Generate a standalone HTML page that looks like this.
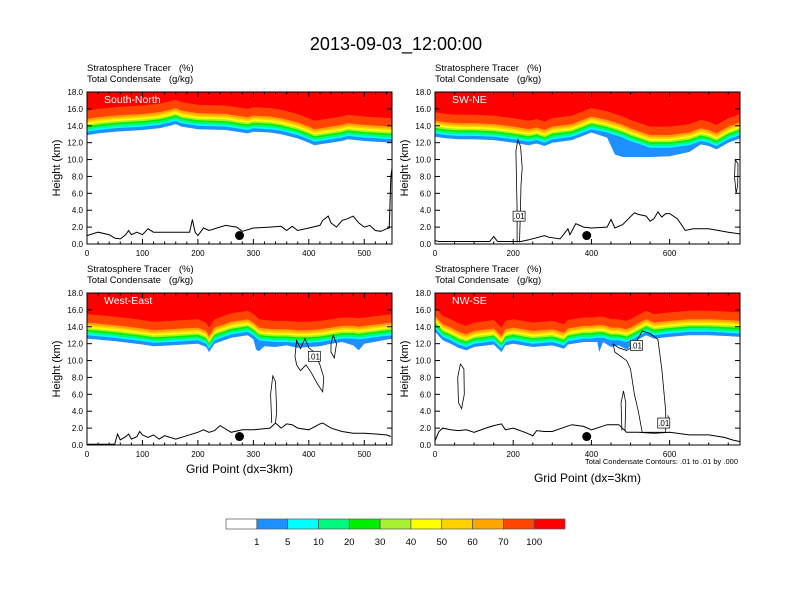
<!DOCTYPE html>
<html><head><meta charset="utf-8"><style>
body{margin:0;background:#fff;}
svg{display:block;font-family:"Liberation Sans",sans-serif;}
</style></head><body>
<svg id="chart" width="792" height="612" viewBox="0 0 792 612">
<rect width="792" height="612" fill="#fff"/>
<text x="396" y="50" font-size="18" text-anchor="middle">2013-09-03_12:00:00</text>
</svg>
<script>
const levelColors=["#ffffff","#1e90ff","#00ffff","#00fa80","#00f000","#a8f030","#ffff00","#ffd200","#ffa500","#ff4500","#ff0000"];
const levelLabels=["1","5","10","20","30","40","50","60","70","100"];
const bandOffsets=[0,0.4,0.6,0.85,1.05,1.25,1.45,1.65,1.9,2.9];

const snTropoX=[0,20,50,100,130,150,160,170,200,250,290,300,330,350,380,400,410,430,460,470,500,550];
const snTropo=[12.9,13.1,13.3,13.5,13.7,14.0,14.2,13.9,13.6,13.5,13.1,13.3,13.2,13.0,12.5,12.0,11.7,11.9,12.2,12.4,12.2,12.0];
const snBlue=snTropo;
const snTerrX=[0,10,20,40,50,60,70,75,80,90,100,110,120,150,185,190,195,200,210,220,250,270,280,300,330,350,360,370,380,400,420,425,435,440,450,460,470,480,490,500,510,520,530,540,545,548,550];
const snTerr=[1.0,1.2,1.4,1.1,0.7,0.6,1.1,1.6,1.1,1.4,1.1,1.8,1.4,1.4,1.4,2.9,1.4,1.0,1.9,1.6,2.2,2.0,1.5,1.9,2.0,2.1,1.6,2.1,1.6,1.9,2.2,2.8,3.3,2.5,2.0,2.8,3.0,3.3,2.5,2.0,2.2,1.6,1.5,1.8,1.9,8.0,9.0];

const swTropoX=[0,30,60,100,150,200,240,260,280,300,350,400,440,460,480,500,550,600,650,680,700,720,750,780];
const swTropo=[12.7,12.5,12.4,12.4,12.3,12.0,11.7,11.9,11.6,12.0,12.3,13.2,12.8,12.5,12.2,11.8,11.0,11.0,11.3,11.8,11.6,11.2,12.0,12.5];
const swBlue=[12.7,12.5,12.4,12.4,12.3,12.0,11.7,11.9,11.6,12.0,12.3,13.2,12.6,10.6,10.3,10.3,10.3,10.4,10.9,11.8,11.6,11.2,12.0,12.5];
const swTerrX=[0,10,100,140,150,160,200,220,240,280,290,320,330,340,345,360,380,400,440,450,460,480,510,520,540,550,560,570,580,590,600,620,640,660,700,750,780];
const swTerr=[0.4,0.3,0.3,0.3,0.9,0.3,0.3,0.3,0.5,1.0,0.8,0.6,1.2,1.8,1.1,2.4,2.0,1.9,2.0,2.9,1.9,2.3,3.7,3.5,3.3,2.7,3.0,3.8,3.2,3.6,3.6,3.0,1.6,1.8,1.8,1.4,1.2];

const weTropoX=[0,50,100,120,150,200,215,220,230,260,290,300,305,310,320,340,360,380,400,420,440,460,480,490,500,550];
const weTropo=[12.6,12.3,11.9,11.7,11.8,12.0,11.6,11.0,12.0,12.7,13.0,12.6,12.3,12.0,11.9,11.8,11.8,11.7,11.7,11.8,12.0,12.2,12.2,12.1,12.2,12.6];
const weBlue=[12.6,12.3,11.9,11.7,11.8,12.0,11.6,11.0,12.0,12.7,13.0,12.5,11.3,11.1,11.7,11.6,11.8,11.5,11.6,11.7,12.0,12.2,11.8,11.2,12.0,12.6];
const weTerrX=[0,50,55,60,70,75,80,90,95,100,110,120,130,140,160,180,200,210,220,230,240,250,260,280,300,330,340,350,360,370,380,400,420,425,440,460,480,500,520,540,548];
const weTerr=[0.1,0.1,1.3,0.6,1.0,1.3,0.7,1.0,1.6,1.2,0.9,1.2,0.7,1.1,0.7,1.1,1.5,1.8,1.5,1.7,2.3,1.9,1.5,1.8,1.8,2.0,2.6,2.0,2.5,2.4,2.0,1.8,2.5,2.6,2.0,1.6,1.4,1.4,1.3,1.2,1.0];

const nwTropoX=[0,20,40,60,80,100,150,170,180,200,250,300,330,340,380,400,415,420,430,450,470,490,500,520,540,560,600,650,700,750,780];
const nwTropo=[13.4,12.4,12.0,11.5,11.2,11.6,11.9,11.0,11.8,12.0,11.6,11.8,11.4,11.9,12.2,12.2,12.3,12.3,12.3,12.0,12.0,11.8,12.0,12.5,13.0,12.6,12.8,13.0,13.0,12.9,12.8];
const nwBlue=[13.4,12.4,12.0,11.5,11.2,11.6,11.9,11.0,11.8,12.0,11.6,11.8,11.4,11.9,12.2,12.2,12.2,11.0,12.2,11.6,11.8,11.3,11.7,12.5,13.0,12.6,12.8,13.0,13.0,12.9,12.8];
const nwTerrX=[0,10,20,40,60,80,100,130,150,170,180,200,230,250,260,280,300,330,350,380,400,440,470,490,520,560,600,650,700,740,760,780];
const nwTerr=[0.5,1.6,2.0,1.8,1.7,1.8,1.5,2.0,2.3,2.5,1.8,2.0,1.5,1.1,1.7,1.6,1.6,2.1,2.4,2.2,1.8,2.4,2.4,1.5,1.5,1.4,1.5,1.2,1.2,0.9,0.6,0.4];

const panels=[
 {name:"south-north",label:"South-North",x0:87,y0:92,xmax:550,ticks:[0,100,200,300,400,500],minor:20,tx:snTropoX,tv:snTropo,bv:snBlue,gx:snTerrX,gv:snTerr,dot:275,contours:[],labels:[],xtitle:false},
 {name:"sw-ne",label:"SW-NE",x0:435,y0:92,xmax:780,ticks:[0,200,400,600],minor:50,tx:swTropoX,tv:swTropo,bv:swBlue,gx:swTerrX,gv:swTerr,dot:388,
  contours:[[[210,0.2],[210,4],[207,11],[212,12.4],[219,11.5],[223,9],[220,7],[218,3],[216,0.2]],[[770,6],[766,8],[768,10],[775,9.5],[774,7],[770,6]]],labels:[[215,3.3]],xtitle:false},
 {name:"west-east",label:"West-East",x0:87,y0:293,xmax:550,ticks:[0,100,200,300,400,500],minor:20,tx:weTropoX,tv:weTropo,bv:weBlue,gx:weTerrX,gv:weTerr,dot:275,
  contours:[[[333,2.6],[331,6],[335,8.2],[340,7.5],[342,4],[340,2.6]],[[375,10.5],[378,12.4],[385,11.4],[393,12.6],[400,11.5],[410,11],[420,9.5],[427,8],[425,6.3],[415,7.3],[405,8.5],[395,9.5],[385,8.8],[378,9.5],[375,10.5]],[[440,12],[444,13],[450,12],[446,10.3],[440,11],[440,12]]],labels:[[410,10.5]],xtitle:true},
 {name:"nw-se",label:"NW-SE",x0:435,y0:293,xmax:780,ticks:[0,200,400,600],minor:50,tx:nwTropoX,tv:nwTropo,bv:nwBlue,gx:nwTerrX,gv:nwTerr,dot:388,
  contours:[[[65,9.6],[58,8],[60,5],[68,4.3],[75,6],[74,9],[65,9.6]],[[455,12],[470,11.5],[490,11.2],[510,11.8],[530,13.5],[550,13.2],[570,12.5],[580,9],[590,4],[590,1.5],[530,1.5],[520,4],[510,6],[500,9],[490,10],[460,11],[455,12]],[[478,1.7],[476,5],[482,6.4],[488,5],[486,1.7]],[[595,3.5],[598,3.1],[595,2.8]]],labels:[[515,11.8],[585,2.6]],xtitle:true}
];
const W=305,H=152,NS="http://www.w3.org/2000/svg";
const svg=document.getElementById('chart');
function mk(tag,attrs,parent){const e=document.createElementNS(NS,tag);for(const k in attrs)e.setAttribute(k,attrs[k]);(parent||svg).appendChild(e);return e;}

panels.forEach(p=>{
 const sx=v=>p.x0+v/p.xmax*W, sy=v=>p.y0+H-v/18*H;
 const g=mk('g',{});
 
 
 const clip=mk('clipPath',{id:'c-'+p.name},g);mk('rect',{x:p.x0,y:p.y0,width:W,height:H},clip);
 const fill=mk('g',{'clip-path':'url(#c-'+p.name+')'},g);
 for(let b=0;b<bandOffsets.length;b++){
  const base=b==0?p.bv:p.tv;
  let d='M'+sx(0)+','+p.y0;
  p.tx.forEach((x,i)=>{d+=' L'+sx(x).toFixed(1)+','+sy(base[i]+bandOffsets[b]).toFixed(1);});
  d+=' L'+sx(p.xmax)+','+p.y0+'Z';
  const path=mk('path',{d:d,fill:levelColors[b+1]},fill);
  
  
 }
 let td='';p.gx.forEach((x,i)=>{td+=(i?' L':'M')+sx(x).toFixed(1)+','+sy(p.gv[i]).toFixed(1);});
 const ter=mk('path',{d:td,fill:'none',stroke:'#000','stroke-width':1},fill);
 
 
 p.contours.forEach(c=>{let d='';c.forEach((pt,i)=>{d+=(i?' L':'M')+sx(pt[0]).toFixed(1)+','+sy(pt[1]).toFixed(1);});
  const cp=mk('path',{d:d,fill:'none',stroke:'#000','stroke-width':0.8},fill);
  
  });
 p.labels.forEach(l=>{const lx=sx(l[0]),ly=sy(l[1]);
  mk('rect',{x:lx-6,y:ly-5,width:12,height:10,fill:'#fff',stroke:'#000','stroke-width':0.7},fill);
  const t=mk('text',{x:lx,y:ly+3,'font-size':8,'text-anchor':'middle'},fill);t.textContent='.01';
  
  });
 const dot=mk('circle',{cx:sx(p.dot),cy:sy(1.0),r:4.5,fill:'#000'},g);
 
 
 mk('rect',{x:p.x0,y:p.y0,width:W,height:H,fill:'none',stroke:'#000','stroke-width':1},g);
 const pl=mk('text',{x:p.x0+17,y:p.y0+11,'font-size':10.5,fill:'#fff'},g);pl.textContent=p.label;
 
 
 const s1=mk('text',{x:p.x0,y:p.y0-21,'font-size':9.5},g);s1.textContent='Stratosphere Tracer   (%)';
 
 
 s1.style.whiteSpace='pre';
 const s2=mk('text',{x:p.x0,y:p.y0-10,'font-size':9.5},g);s2.textContent='Total Condensate   (g/kg)';
 
 
 s2.style.whiteSpace='pre';
 for(let v=0;v<=18;v+=2){const y=sy(v);
  mk('line',{x1:p.x0,x2:p.x0+5,y1:y,y2:y,stroke:'#000'},g);mk('line',{x1:p.x0+W,x2:p.x0+W-5,y1:y,y2:y,stroke:'#000'},g);
  const t=mk('text',{x:p.x0-4,y:y+3,'font-size':8,'text-anchor':'end'},g);t.textContent=v.toFixed(1);
  
  }
 for(let v=0;v<=p.xmax;v+=p.minor){const x=sx(v);const major=p.ticks.includes(v);const L=major?5:2.5;
  mk('line',{x1:x,x2:x,y1:p.y0+H,y2:p.y0+H-L,stroke:'#000'},g);mk('line',{x1:x,x2:x,y1:p.y0,y2:p.y0+L,stroke:'#000'},g);}
 p.ticks.forEach(v=>{const t=mk('text',{x:sx(v),y:p.y0+H+12,'font-size':8,'text-anchor':'middle'},g);t.textContent=v;
  
  });
 const yt=mk('text',{x:0,y:0,'font-size':11,'text-anchor':'middle',transform:'translate('+(p.x0-27)+','+(p.y0+H/2)+') rotate(-90)'},g);yt.textContent='Height (km)';
 
 
 if(p.xtitle){const xt=mk('text',{x:p.x0+W/2,y:p.name=='nw-se'?482:473,'font-size':12,'text-anchor':'middle'},g);xt.textContent='Grid Point (dx=3km)';
  
  }
});
const fn=mk('text',{x:738,y:464,'font-size':7.5,'text-anchor':'end'});fn.textContent='Total Condensate Contours: .01 to .01 by .000';


const cb=mk('g',{});


const cbx=226,cbw=339/levelColors.length;
levelColors.forEach((c,i)=>{const r=mk('rect',{x:cbx+i*cbw,y:519,width:cbw,height:10,fill:c,stroke:'#555','stroke-width':0.7},cb);
 
 });
levelLabels.forEach((l,i)=>{const t=mk('text',{x:cbx+(i+1)*cbw,y:545,'font-size':9.5,'text-anchor':'middle'},cb);t.textContent=l;
 
 });
</script>
</body></html>
